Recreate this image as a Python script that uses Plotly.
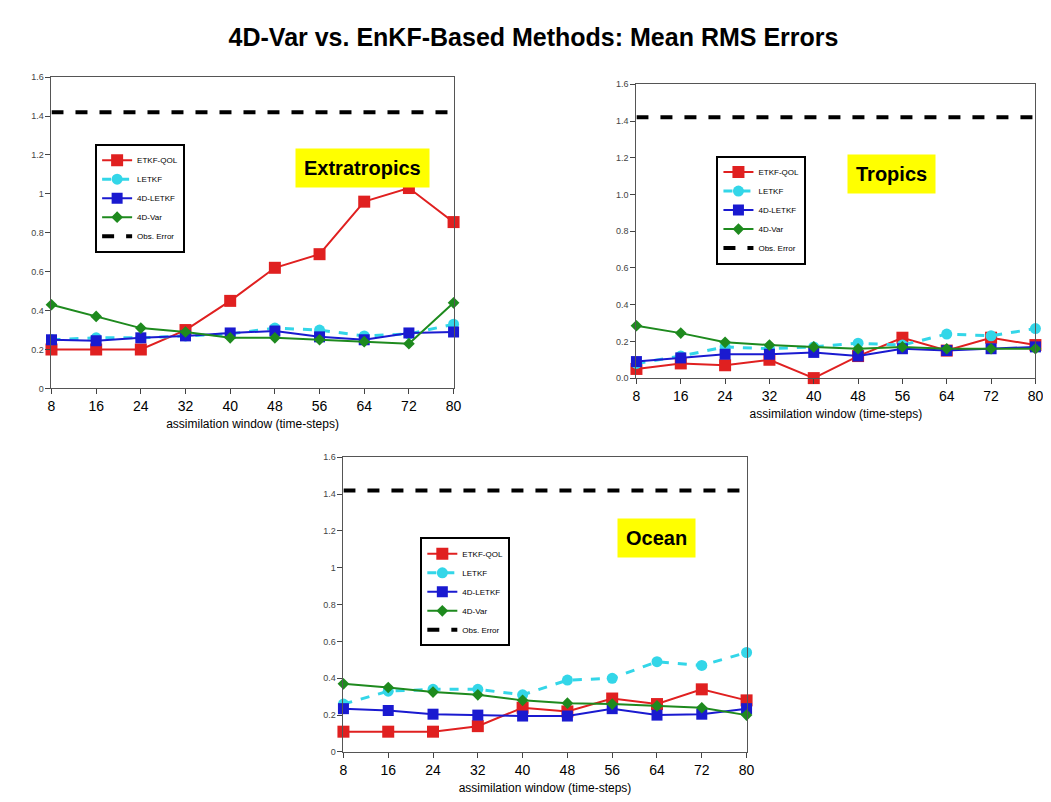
import plotly.graph_objects as go

windows = [8, 16, 24, 32, 40, 48, 56, 64, 72, 80]
obs_error = 1.42

# Extratropics
ext_etkf = [0.20, 0.20, 0.20, 0.30, 0.45, 0.62, 0.69, 0.96, 1.03, 0.855]
ext_letkf = [0.25, 0.26, 0.26, 0.27, 0.28, 0.31, 0.30, 0.27, 0.28, 0.33]
ext_4dletkf = [0.25, 0.245, 0.26, 0.27, 0.285, 0.295, 0.265, 0.25, 0.285, 0.29]
ext_4dvar = [0.43, 0.37, 0.31, 0.29, 0.26, 0.26, 0.25, 0.24, 0.23, 0.44]

# Tropics
tro_etkf = [0.05, 0.08, 0.07, 0.10, 0.0, 0.12, 0.22, 0.15, 0.22, 0.18]
tro_letkf = [0.08, 0.12, 0.17, 0.16, 0.17, 0.19, 0.18, 0.24, 0.23, 0.27]
tro_4dletkf = [0.09, 0.11, 0.13, 0.13, 0.14, 0.12, 0.16, 0.15, 0.16, 0.17]
tro_4dvar = [0.285, 0.245, 0.195, 0.18, 0.17, 0.16, 0.17, 0.16, 0.16, 0.16]

# Ocean
oce_etkf = [0.11, 0.11, 0.11, 0.14, 0.24, 0.22, 0.29, 0.26, 0.34, 0.28]
oce_letkf = [0.26, 0.33, 0.34, 0.34, 0.31, 0.39, 0.40, 0.49, 0.47, 0.54]
oce_4dletkf = [0.235, 0.225, 0.205, 0.20, 0.195, 0.195, 0.235, 0.20, 0.205, 0.235]
oce_4dvar = [0.37, 0.35, 0.325, 0.31, 0.28, 0.265, 0.26, 0.25, 0.24, 0.20]

panels = [
    ("Extratropics", ext_etkf, ext_letkf, ext_4dletkf, ext_4dvar,
     [0.038, 0.425], [0.526, 0.919], False, [0.08, 0.835]),
    ("Tropics", tro_etkf, tro_letkf, tro_4dletkf, tro_4dvar,
     [0.601, 0.985], [0.539, 0.910], True, [0.678, 0.82]),
    ("Ocean", oce_etkf, oce_letkf, oce_4dletkf, oce_4dvar,
     [0.319, 0.707], [0.067, 0.439], False, [0.393, 0.338]),
]

fig = go.Figure()
layout = {}
for i, (name, etkf, letkf, d4letkf, d4var, xd, yd, decimals, lpos) in enumerate(panels):
    n = "" if i == 0 else str(i + 1)
    xa, ya = "x" + n, "y" + n
    lg = "legend" + n
    series = [
        ("ETKF-QOL", etkf, dict(color="#e02020", width=2), dict(symbol="square", size=12, color="#e02020")),
        ("LETKF", letkf, dict(color="#33d6e8", width=3, dash="dash"), dict(symbol="circle", size=11, color="#33d6e8")),
        ("4D-LETKF", d4letkf, dict(color="#1a1ad0", width=2), dict(symbol="square", size=11, color="#1a1ad0")),
        ("4D-Var", d4var, dict(color="#1e8a1e", width=2), dict(symbol="diamond", size=9, color="#1e8a1e")),
    ]
    for label, vals, line, marker in series:
        fig.add_trace(go.Scatter(x=windows, y=vals, name=label, mode="lines+markers",
                                 line=line, marker=marker, xaxis=xa, yaxis=ya,
                                 legend=lg, cliponaxis=False))
    fig.add_trace(go.Scatter(x=windows, y=[obs_error] * len(windows), name="Obs. Error",
                             mode="lines", line=dict(color="black", width=4, dash="dash"),
                             xaxis=xa, yaxis=ya, legend=lg))
    yticks = [0, 0.2, 0.4, 0.6, 0.8, 1, 1.2, 1.4, 1.6]
    ytext = ["%.1f" % v for v in yticks] if decimals else ["%g" % v for v in yticks]
    layout["xaxis" + n] = dict(domain=xd, anchor=ya, range=[8, 80], tickvals=windows,
                               showline=True, linecolor="#555", mirror=True, ticks="outside",
                               showgrid=False, zeroline=False, tickfont=dict(size=14),
                               title=dict(text="assimilation window (time-steps)",
                                          font=dict(size=12), standoff=6))
    layout["yaxis" + n] = dict(domain=yd, anchor=xa, range=[0, 1.6],
                               tickvals=yticks, ticktext=ytext,
                               showline=True, linecolor="#555", mirror=True, ticks="outside",
                               showgrid=False, zeroline=False, tickfont=dict(size=9, color="#444"))
    layout[lg] = dict(x=lpos[0], y=lpos[1], xanchor="left", yanchor="top",
                      bgcolor="white", bordercolor="black", borderwidth=2,
                      font=dict(size=8), tracegroupgap=0, itemwidth=30)

fig.update_layout(**layout)

labels = [("Extratropics", 0.337, 0.83), ("Tropics", 0.889, 0.822), ("Ocean", 0.62, 0.337)]
for txt, x, y in labels:
    fig.add_annotation(text="<b>%s</b>" % txt, x=x, y=y, xref="paper", yref="paper",
                       showarrow=False, bgcolor="#ffff00", borderpad=8,
                       font=dict(size=20, color="black", family="Arial"))

fig.update_layout(
    width=1051, height=802,
    margin=dict(l=0, r=0, t=0, b=0),
    paper_bgcolor="white", plot_bgcolor="white",
    font=dict(family="Arial", color="black"),
    title=dict(text="<b>4D-Var vs. EnKF-Based Methods: Mean RMS Errors</b>",
               x=0.5, y=0.975, xanchor="center", font=dict(size=25)),
)

fig.write_html("out.html")
